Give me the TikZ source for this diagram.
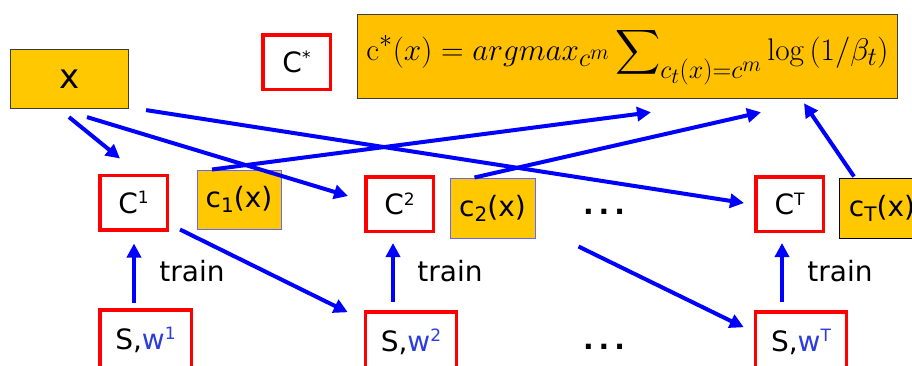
\documentclass[tikz,border=0pt]{standalone}
\usepackage{amsmath}
\usepackage{graphicx}
\usepackage[no-math]{fontspec}
\setmainfont{DejaVu Sans}
\usetikzlibrary{arrows.meta,calc}
\definecolor{gold}{RGB}{255,200,0}
\definecolor{fgold}{RGB}{255,192,0}
\definecolor{wblue}{RGB}{45,60,220}
\definecolor{bblue}{RGB}{0,0,255}
\definecolor{edgeblue}{RGB}{100,100,255}
\definecolor{darkedge}{RGB}{60,60,60}
\newcommand{\lfont}{\fontsize{28}{32}\selectfont}
\newcommand{\mysub}[1]{\raisebox{-0.32ex}{\fontsize{20}{22}\selectfont #1}}
\newcommand{\mysup}[1]{\raisebox{0.62ex}{\fontsize{17}{20}\selectfont #1}}
\begin{document}
\begin{tikzpicture}[x=1pt,y=-1pt,
  rbox/.style={draw=red, line width=3.5pt, inner sep=0pt, minimum width=67.5pt, minimum height=54.5pt, font=\lfont},
  gbox/.style={fill=gold, draw=edgeblue, line width=1pt, inner sep=0pt, minimum width=84pt, minimum height=59pt, font=\lfont},
  arr/.style={draw=bblue, line width=4pt, -{Triangle[length=14pt,width=14pt]}},
  lbl/.style={font=\lfont, inner sep=0pt}]
\useasboundingbox (0,0) rectangle (912,365);
\clip (0,0) rectangle (912,365);
% top row
\node[fill=gold, draw=darkedge, line width=1.2pt, minimum width=118pt, minimum height=59pt, inner sep=0pt, font=\fontsize{34}{38}\selectfont] (x) at (69.5,79) {x};
\node[rbox] (Cs) at (296.5,62) {C\mysup{*}};
\node[fill=fgold, draw=darkedge, line width=1.5pt, minimum width=540pt, minimum height=84pt, inner sep=0pt] (F) at (627.5,56.5)
  {\raisebox{4pt}{\resizebox{522pt}{!}{\fontsize{24.88}{28}\selectfont $\displaystyle \mathrm{c}^{*}(x) = argmax_{c^{m}}\sum\nolimits_{c_t(x)=c^{m}}\log\,(1/\beta_t)$}}};
% middle row
\node[rbox] (C1) at (133.5,202.5) {C\mysup{1}};
\node[gbox] (c1) at (239,199.5) {c\mysub{1}(x)};
\node[rbox] (C2) at (399.5,204) {C\mysup{2}};
\node[gbox, minimum width=85pt, minimum height=60pt] (c2) at (492.5,208) {c\mysub{2}(x)};
\node[rbox] (CT) at (789.5,204) {C\mysup{T}};
\node[gbox, draw=black, minimum width=86pt, minimum height=60pt] (cT) at (882,208) {c\mysub{T}(x)};
\node[lbl] (d1) at (604,212) {\textbf{.\hspace{5pt}.\hspace{5pt}.}};
% bottom row
\node[rbox, minimum width=91.5pt, minimum height=60pt] (S1) at (145.5,340) {\raisebox{3pt}{S,\textcolor{wblue}{w\mysup{1}}}};
\node[rbox, minimum width=91pt, minimum height=60pt] (S2) at (411,342) {\raisebox{3pt}{S,\textcolor{wblue}{w\mysup{2}}}};
\node[rbox, minimum width=91pt, minimum height=60pt] (ST) at (801,342) {\raisebox{3pt}{S,\textcolor{wblue}{w\mysup{T}}}};
\node[lbl] (d2) at (604,347) {\textbf{.\hspace{5pt}.\hspace{5pt}.}};
\node[lbl] (t1) at (192,271) {train};
\node[lbl] (t2) at (450,271) {train};
\node[lbl] (t3) at (840,271) {train};
% connectors
\draw[arr] ($(x.south)+(-0.5,8)$) -- ($(C1.north west)+(22,-15)$);
\draw[arr] ($(x.south)+(17.5,8)$) -- ($(C2.west)+(-16,-8)$);
\draw[arr] ($(x.south east)+(17,1)$) -- ($(CT.west)+(-10,-1)$);
\draw[arr] ($(c1.north)+(-27,0)$) -- ($(F.south)+(23.5,13)$);
\draw[arr] ($(c2.north)+(-18,0)$) -- ($(F.south)+(133.5,13)$);
\draw[arr] ($(cT.north)+(-28,-1)$) -- ($(F.south)+(176.5,4)$);
\draw[arr] ($(C1.south)+(0.5,71)$) -- ($(C1.south)+(0.5,12)$);
\draw[arr] ($(C2.south)+(-6.5,69)$) -- ($(C2.south)+(-6.5,10)$);
\draw[arr] ($(CT.south)+(-7.5,69)$) -- ($(CT.south)+(-7.5,10)$);
\draw[arr] ($(C1.south east)+(11,-2)$) -- ($(S2.north west)+(-16,2)$);
\coordinate (m) at ($(c2.south east)+(43,8)$);
\draw[arr] (m) -- ($(ST.north west)+(-10,17)$);
\end{tikzpicture}
\end{document}
